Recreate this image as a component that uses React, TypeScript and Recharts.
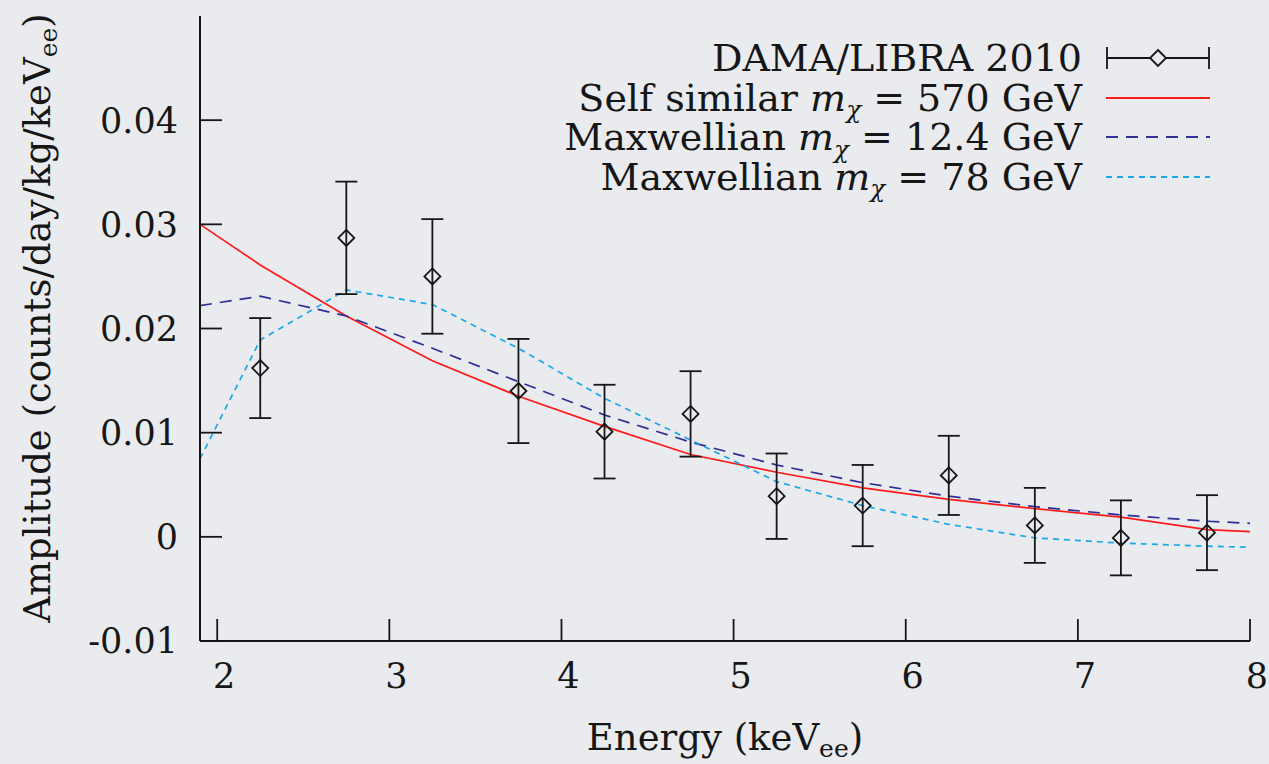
import { ComposedChart, Line, Scatter, ErrorBar, XAxis, YAxis, Legend, Label } from 'recharts'

const FONT = '"DejaVu Serif", serif'
const INK = '#161616'

// DAMA/LIBRA 2010 modulation amplitudes
const binEnergy = [2.25, 2.75, 3.25, 3.75, 4.25, 4.75, 5.25, 5.75, 6.25, 6.75, 7.25, 7.75]
const amplitude = [0.0162, 0.0287, 0.025, 0.014, 0.0101, 0.0118, 0.0039, 0.003, 0.0059, 0.0011, -0.0001, 0.0004]
const amplitudeErr = [0.0048, 0.0054, 0.0055, 0.005, 0.0045, 0.0041, 0.0041, 0.0039, 0.0038, 0.0036, 0.0036, 0.0036]

// model curves
const modelEnergy = [1.9, 2.25, 2.75, 3.25, 3.75, 4.25, 4.75, 5.25, 5.75, 6.25, 6.75, 7.25, 7.75, 8.0]
const selfSimilar570 = [0.03, 0.0261, 0.0212, 0.0169, 0.0135, 0.0106, 0.0079, 0.0062, 0.0047, 0.0036, 0.0027, 0.0019, 0.0007, 0.0005]
const maxwellian124 = [0.0222, 0.0231, 0.0212, 0.0181, 0.0149, 0.0117, 0.0091, 0.0069, 0.0052, 0.0039, 0.0029, 0.0021, 0.0015, 0.0013]
const maxwellian78 = [0.0075, 0.0189, 0.0237, 0.0223, 0.0181, 0.0133, 0.0093, 0.0053, 0.003, 0.0012, -0.0001, -0.0006, -0.0009, -0.001]

const xTicks = [2, 3, 4, 5, 6, 7, 8]
const yTicks = [-0.01, 0, 0.01, 0.02, 0.03, 0.04]

const SERIES = [
  { name: 'Self similar', mass: '570', values: selfSimilar570, color: '#ff1a1a', dash: undefined },
  { name: 'Maxwellian', mass: '12.4', values: maxwellian124, color: '#2e2e96', dash: '12 8' },
  { name: 'Maxwellian', mass: '78', values: maxwellian78, color: '#1aa8e6', dash: '6 5' },
]

const points = binEnergy.map((x, i) => ({ x, y: amplitude[i], err: amplitudeErr[i] }))

function Diamond(props: any) {
  const { cx, cy } = props
  if (cx == null || cy == null) return null
  return (
    <path
      d={`M${cx},${cy - 8} L${cx + 8},${cy} L${cx},${cy + 8} L${cx - 8},${cy} Z`}
      fill="none"
      stroke={INK}
      strokeWidth={1.8}
    />
  )
}

function XTitle(props: any) {
  const vb = props.viewBox
  return (
    <text x={vb.x + vb.width / 2} y={vb.y + 109} textAnchor="middle" fontFamily={FONT} fontSize={37} fill={INK}>
      Energy (keV<tspan fontSize={25} dy={7}>ee</tspan><tspan dy={-7}>)</tspan>
    </text>
  )
}

function YTitle(props: any) {
  const vb = props.viewBox
  const cx = vb.x + 50
  const cy = vb.y + 302
  return (
    <text x={cx} y={cy} transform={`rotate(-90, ${cx}, ${cy})`} textAnchor="middle" fontFamily={FONT} fontSize={37} fill={INK}>
      Amplitude (counts/day/kg/keV<tspan fontSize={25} dy={7}>ee</tspan><tspan dy={-7}>)</tspan>
    </text>
  )
}

function MassLabel({ name, mass }: { name: string; mass: string }) {
  return (
    <span>
      {name} <i>m</i>
      <i style={{ fontSize: '0.65em', position: 'relative', top: '0.3em', lineHeight: 1 }}>χ</i> = {mass} GeV
    </span>
  )
}

function LegendBox() {
  const row = { display: 'flex', justifyContent: 'flex-end', alignItems: 'center', height: 39.7 } as const
  return (
    <div style={{ fontFamily: FONT, fontSize: 38, color: INK, lineHeight: 1, whiteSpace: 'nowrap' }}>
      <div style={row}>
        <span>DAMA/LIBRA 2010</span>
        <svg width={104} height={40} style={{ marginLeft: 24 }}>
          <line x1={1} y1={20} x2={103} y2={20} stroke={INK} strokeWidth={1.8} />
          <line x1={1} y1={9} x2={1} y2={31} stroke={INK} strokeWidth={1.8} />
          <line x1={103} y1={9} x2={103} y2={31} stroke={INK} strokeWidth={1.8} />
          <path d="M52,12 L60,20 L52,28 L44,20 Z" fill="#e9ebef" stroke={INK} strokeWidth={1.8} />
        </svg>
      </div>
      {SERIES.map((s, i) => (
        <div key={i} style={row}>
          <MassLabel name={s.name} mass={s.mass} />
          <svg width={104} height={40} style={{ marginLeft: 24 }}>
            <line x1={0} y1={20} x2={104} y2={20} stroke={s.color} strokeWidth={1.8} strokeDasharray={s.dash} />
          </svg>
        </div>
      ))}
    </div>
  )
}

export default function App() {
  return (
    <div style={{ position: 'absolute', left: 0, top: 0, width: 1269, height: 764, background: '#e9ebef' }}>
      <ComposedChart width={1269} height={764} margin={{ top: 16, right: 19, bottom: 0, left: 0 }}>
        <XAxis
          dataKey="x"
          type="number"
          domain={[1.9, 8]}
          allowDataOverflow
          ticks={xTicks}
          height={123}
          tickSize={-22}
          tickMargin={44}
          axisLine={{ stroke: INK, strokeWidth: 2 }}
          tickLine={{ stroke: INK, strokeWidth: 1.8 }}
          tick={{ fill: INK, fontFamily: FONT, fontSize: 35, dx: 7 }}
        >
          <Label content={<XTitle />} />
        </XAxis>
        <XAxis
          xAxisId="top"
          orientation="top"
          type="number"
          domain={[1.9, 8]}
          allowDataOverflow
          ticks={xTicks}
          height={0}
          tickSize={-22}
          axisLine={{ stroke: INK, strokeWidth: 2 }}
          tickLine={{ stroke: INK, strokeWidth: 1.8 }}
          tick={false}
        />
        <YAxis
          type="number"
          domain={[-0.01, 0.05]}
          allowDataOverflow
          ticks={yTicks}
          width={200}
          tickSize={-22}
          tickMargin={44}
          tickFormatter={(v: number) => (v === 0 ? '0' : v.toFixed(2))}
          axisLine={{ stroke: INK, strokeWidth: 2 }}
          tickLine={{ stroke: INK, strokeWidth: 1.8 }}
          tick={{ fill: INK, fontFamily: FONT, fontSize: 35 }}
        >
          <Label content={<YTitle />} />
        </YAxis>
        <YAxis
          yAxisId="right"
          orientation="right"
          type="number"
          domain={[-0.01, 0.05]}
          allowDataOverflow
          ticks={yTicks}
          width={0}
          tickSize={-22}
          axisLine={{ stroke: INK, strokeWidth: 2 }}
          tickLine={{ stroke: INK, strokeWidth: 1.8 }}
          tick={false}
        />
        {SERIES.map((s, i) => (
          <Line
            key={i}
            data={modelEnergy.map((x, j) => ({ x, y: s.values[j] }))}
            dataKey="y"
            type="linear"
            stroke={s.color}
            strokeWidth={1.7}
            strokeDasharray={s.dash}
            dot={false}
            activeDot={false}
            isAnimationActive={false}
          />
        ))}
        <Scatter data={points} dataKey="y" shape={<Diamond />} isAnimationActive={false}>
          <ErrorBar dataKey="err" direction="y" width={11} stroke={INK} strokeWidth={1.8} isAnimationActive={false} />
        </Scatter>
        <Legend
          layout="vertical"
          align="center"
          verticalAlign="middle"
          wrapperStyle={{ position: 'absolute', top: 38, left: 500, width: 710, height: 160 }}
          content={<LegendBox />}
        />
      </ComposedChart>
    </div>
  )
}
